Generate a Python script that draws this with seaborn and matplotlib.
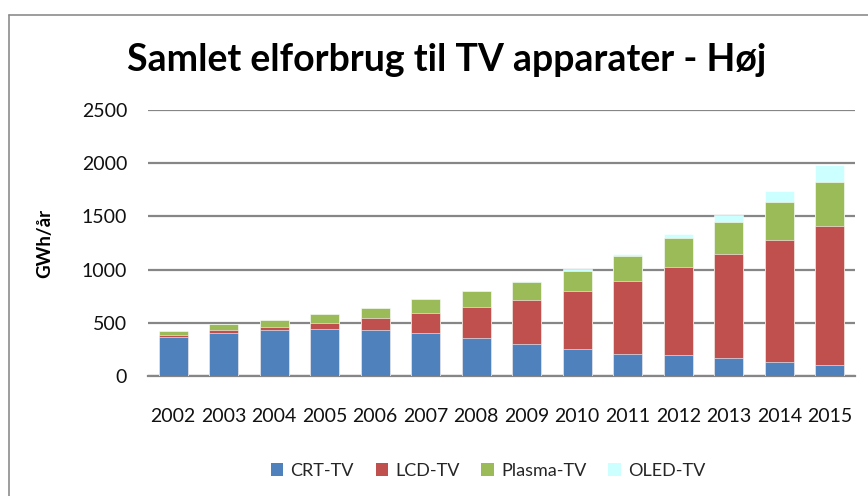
import numpy as np
import pandas as pd
import matplotlib.pyplot as plt
import seaborn as sns
from matplotlib.patches import Patch
from matplotlib.lines import Line2D

# values (GWh/år)
years = ["2002", "2003", "2004", "2005", "2006", "2007", "2008",
         "2009", "2010", "2011", "2012", "2013", "2014", "2015"]
crt = [370, 400, 435, 445, 435, 400, 355, 305, 255, 210, 195, 165, 135, 100]
lcd = [15, 35, 25, 50, 110, 190, 290, 410, 545, 685, 830, 985, 1140, 1310]
plasma = [35, 50, 65, 85, 95, 130, 155, 165, 190, 235, 270, 300, 365, 415]
oled = [0, 0, 0, 0, 0, 0, 0, 15, 15, 15, 35, 65, 100, 160]
series = ["CRT-TV", "LCD-TV", "Plasma-TV", "OLED-TV"]
colors = ["#4F81BD", "#C0504D", "#9BBB59", "#CCFFFF"]

df = pd.DataFrame({"year": years, "CRT-TV": crt, "LCD-TV": lcd,
                   "Plasma-TV": plasma, "OLED-TV": oled})
cum = df[series].cumsum(axis=1)
cum["year"] = df["year"]

sns.set_theme(style="white")
plt.rcParams["font.family"] = ["Lato", "DejaVu Sans"]

fig = plt.figure(figsize=(8.68, 4.96), dpi=100)
ax = fig.add_axes([148 / 868, 1 - 376 / 496, 707 / 868, 266 / 496])

# stacked bars: draw cumulative totals from the top layer down
for name, c in reversed(list(zip(series, colors))):
    sns.barplot(data=cum, x="year", y=name, color=c, width=0.57,
                saturation=1, ax=ax, zorder=3,
                edgecolor="white", linewidth=0.4)

ax.set_ylim(0, 2500)
ax.set_yticks(range(0, 2501, 500))
ax.set_xlim(-0.5, len(years) - 0.5)
ax.yaxis.grid(True, color="#868686", linewidth=1.6, zorder=0)
ax.set_axisbelow(True)
for s in ["top", "right", "left"]:
    ax.spines[s].set_visible(False)
ax.spines["bottom"].set_color("#868686")
ax.spines["bottom"].set_linewidth(1.6)
ax.tick_params(axis="both", length=0, labelsize=14, colors="#111111")
ax.tick_params(axis="y", pad=15)
ax.tick_params(axis="x", pad=23)
ax.set_xlabel("")
ax.set_ylabel("GWh/år", fontsize=13.5, fontweight="bold", color="black")
ax.yaxis.set_label_coords(-0.134, 0.5)

fig.text(447 / 868, 1 - 60 / 496, "Samlet elforbrug til TV apparater - Høj",
         ha="center", va="center", fontsize=27, fontweight="bold",
         color="black")

handles = [Patch(facecolor=c, edgecolor="none") for c in colors]
fig.legend(handles, series, loc="center", bbox_to_anchor=(488 / 868, 1 - 471 / 496),
           ncol=4, frameon=False, fontsize=13, handlelength=0.7,
           handleheight=0.7, columnspacing=1.2, handletextpad=0.4)

# chart-area border (only left and top visible in the crop)
fig.add_artist(Line2D([9 / 868, 9 / 868], [0, 1 - 15 / 496],
                      transform=fig.transFigure, color="#8c8c8c", lw=1.2))
fig.add_artist(Line2D([9 / 868, 1], [1 - 15 / 496, 1 - 15 / 496],
                      transform=fig.transFigure, color="#8c8c8c", lw=1.2))

fig.savefig("out.png", dpi=100)
